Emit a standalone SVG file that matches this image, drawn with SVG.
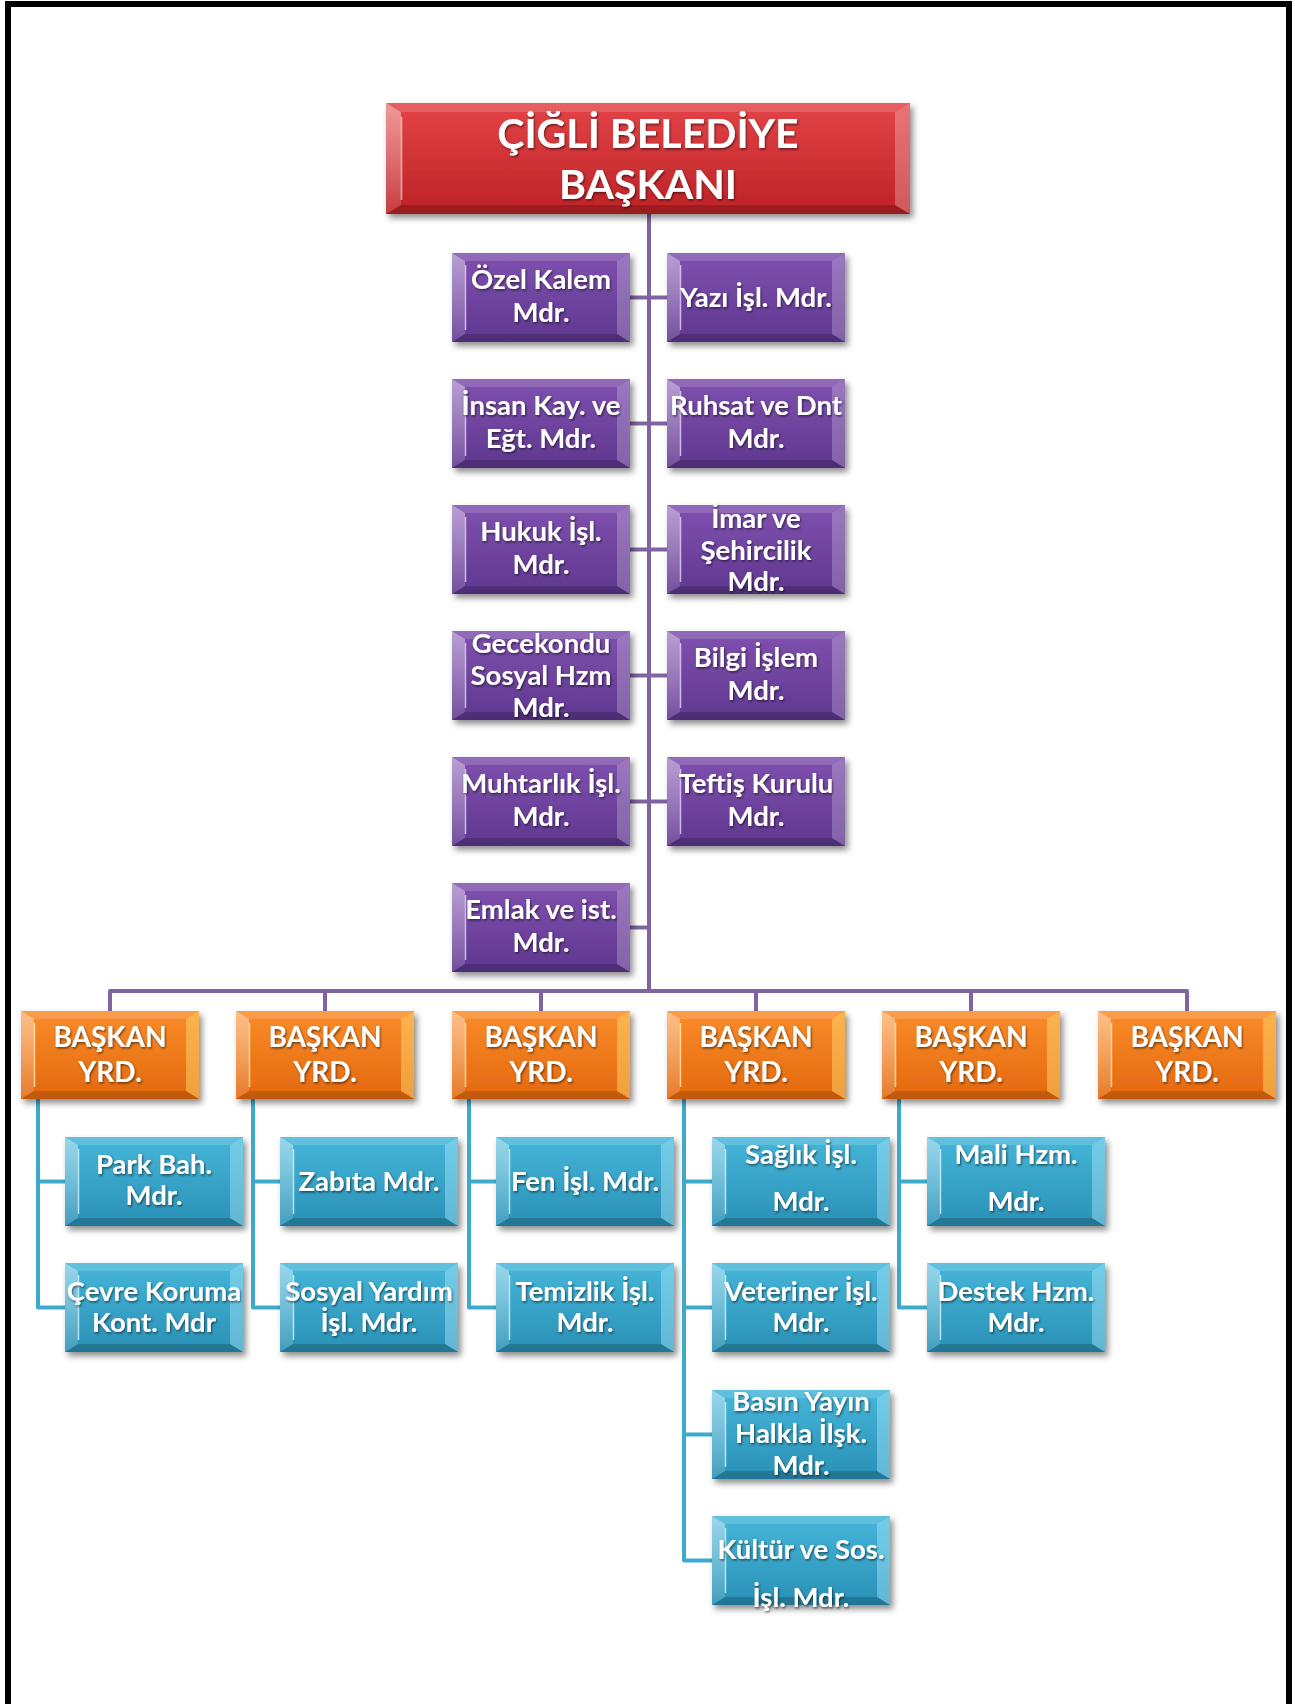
<svg xmlns="http://www.w3.org/2000/svg" width="1295" height="1704" viewBox="0 0 1295 1704">
<style>
.t{font-family:"Lato","Carlito","Liberation Sans",sans-serif;font-weight:bold;fill:#fff;text-anchor:middle;filter:url(#tsh)}
.tp{font-size:27.5px}
.to{font-size:28px}
.tb{font-size:27.5px}
.tt{font-size:41px}
.cp{fill:none;stroke:#8064a2;stroke-width:4;stroke-linejoin:round;stroke-linecap:round}
.cb{fill:none;stroke:#3eaacb;stroke-width:4;stroke-linejoin:round;stroke-linecap:round}
</style>
<defs>
<linearGradient id="gRed" x1="0" y1="0" x2="0" y2="1"><stop offset="0" stop-color="#e34447"/><stop offset="1" stop-color="#bd2226"/></linearGradient>
<linearGradient id="gPur" x1="0" y1="0" x2="0" y2="1"><stop offset="0" stop-color="#7f51ae"/><stop offset="1" stop-color="#5f3790"/></linearGradient>
<linearGradient id="gOra" x1="0" y1="0" x2="0" y2="1"><stop offset="0" stop-color="#fa8c2a"/><stop offset="1" stop-color="#e3680d"/></linearGradient>
<linearGradient id="gBlu" x1="0" y1="0" x2="0" y2="1"><stop offset="0" stop-color="#45b6d9"/><stop offset="1" stop-color="#2a90b6"/></linearGradient>
<linearGradient id="gHi" x1="0" y1="0" x2="0" y2="1"><stop offset="0" stop-color="#fff" stop-opacity=".45"/><stop offset="1" stop-color="#fff" stop-opacity=".12"/></linearGradient>
<filter id="sh" x="-10%" y="-10%" width="125%" height="135%"><feDropShadow dx="3" dy="4" stdDeviation="3" flood-color="#000" flood-opacity="0.45"/></filter>
<filter id="tsh" x="-10%" y="-20%" width="125%" height="150%"><feDropShadow dx="1" dy="1.5" stdDeviation="1" flood-color="#000" flood-opacity="0.55"/></filter>
<g id="bP">
<rect width="178" height="89" fill="url(#gPur)"/>
<polygon points="0,0 13,8 13,81 0,89" fill="url(#gHi)"/>
<polygon points="178,0 165,8 165,81 178,89" fill="#fff" fill-opacity=".22"/>
<polygon points="0,0 178,0 165,8 13,8" fill="#fff" fill-opacity=".15"/>
<polygon points="0,89 178,89 165,81 13,81" fill="#000" fill-opacity=".18"/>
<line x1="13.5" y1="12" x2="13.5" y2="77" stroke="#e6d6ff" stroke-opacity=".8" stroke-width="1.5"/>
</g>
<g id="bO">
<rect width="178" height="88" fill="url(#gOra)"/>
<polygon points="0,0 13,8 13,80 0,88" fill="url(#gHi)"/>
<polygon points="178,0 165,8 165,80 178,88" fill="#ffe27a" fill-opacity=".45"/>
<polygon points="0,0 178,0 165,8 13,8" fill="#fff" fill-opacity=".15"/>
<polygon points="0,88 178,88 165,80 13,80" fill="#000" fill-opacity=".15"/>
<line x1="13.5" y1="12" x2="13.5" y2="76" stroke="#ffe9b0" stroke-opacity=".8" stroke-width="1.5"/>
</g>
<g id="bB">
<rect width="178" height="89" fill="url(#gBlu)"/>
<polygon points="0,0 13,8 13,81 0,89" fill="url(#gHi)"/>
<polygon points="178,0 165,8 165,81 178,89" fill="#b9f1ff" fill-opacity=".4"/>
<polygon points="0,0 178,0 165,8 13,8" fill="#fff" fill-opacity=".15"/>
<polygon points="0,89 178,89 165,81 13,81" fill="#000" fill-opacity=".18"/>
<line x1="13.5" y1="12" x2="13.5" y2="77" stroke="#d4f6ff" stroke-opacity=".8" stroke-width="1.5"/>
</g>
<g id="bR">
<rect width="524" height="111" fill="url(#gRed)"/>
<polygon points="0,0 15,9 15,102 0,111" fill="url(#gHi)"/>
<polygon points="524,0 509,9 509,102 524,111" fill="#fff" fill-opacity=".25"/>
<polygon points="0,0 524,0 509,9 15,9" fill="#fff" fill-opacity=".15"/>
<polygon points="0,111 524,111 509,102 15,102" fill="#000" fill-opacity=".18"/>
<line x1="15.5" y1="14" x2="15.5" y2="97" stroke="#ffd0d0" stroke-opacity=".8" stroke-width="1.5"/>
</g>
</defs>

<rect x="8" y="4" width="1281" height="1720" fill="#fff" stroke="#000" stroke-width="6"/>

<g id="connectors">
<path class="cp" d="M649,214 V991"/>
<path class="cp" d="M630,297.5 H667 M630,423.5 H667 M630,549.5 H667 M630,675.5 H667 M630,801.5 H667 M630,927.5 H649"/>
<path class="cp" d="M110,1011 V991 H1187 V1011 M325,991 V1011 M541,991 V1011 M756,991 V1011 M971,991 V1011"/>
<path class="cb" d="M38,1099 V1307.5 H65 M38,1181.5 H65"/>
<path class="cb" d="M253,1099 V1307.5 H280 M253,1181.5 H280"/>
<path class="cb" d="M469,1099 V1307.5 H496 M469,1181.5 H496"/>
<path class="cb" d="M684,1099 V1560.5 H712 M684,1181.5 H712 M684,1307.5 H712 M684,1434.5 H712"/>
<path class="cb" d="M899,1099 V1307.5 H927 M899,1181.5 H927"/>
</g>

<g id="n-baskan" transform="translate(386,103)"><use href="#bR" filter="url(#sh)"/><text class="t tt" x="262" y="45">ÇİĞLİ BELEDİYE</text><text class="t tt" x="262" y="96">BAŞKANI</text></g>

<g id="n-ozel" transform="translate(452,253)"><use href="#bP" filter="url(#sh)"/><text class="t tp" x="89" y="36">Özel Kalem</text><text class="t tp" x="89" y="69">Mdr.</text></g>
<g id="n-yazi" transform="translate(667,253)"><use href="#bP" filter="url(#sh)"/><text class="t tp" x="89" y="54">Yazı İşl. Mdr.</text></g>
<g id="n-insan" transform="translate(452,379)"><use href="#bP" filter="url(#sh)"/><text class="t tp" x="89" y="36">İnsan Kay. ve</text><text class="t tp" x="89" y="69">Eğt. Mdr.</text></g>
<g id="n-ruhsat" transform="translate(667,379)"><use href="#bP" filter="url(#sh)"/><text class="t tp" x="89" y="36">Ruhsat ve Dnt</text><text class="t tp" x="89" y="69">Mdr.</text></g>
<g id="n-hukuk" transform="translate(452,505)"><use href="#bP" filter="url(#sh)"/><text class="t tp" x="89" y="36">Hukuk İşl.</text><text class="t tp" x="89" y="69">Mdr.</text></g>
<g id="n-imar" transform="translate(667,505)"><use href="#bP" filter="url(#sh)"/><text class="t tp" x="89" y="23">İmar ve</text><text class="t tp" x="89" y="55">Şehircilik</text><text class="t tp" x="89" y="86">Mdr.</text></g>
<g id="n-gecekondu" transform="translate(452,631)"><use href="#bP" filter="url(#sh)"/><text class="t tp" x="89" y="22">Gecekondu</text><text class="t tp" x="89" y="54">Sosyal Hzm</text><text class="t tp" x="89" y="86">Mdr.</text></g>
<g id="n-bilgi" transform="translate(667,631)"><use href="#bP" filter="url(#sh)"/><text class="t tp" x="89" y="36">Bilgi İşlem</text><text class="t tp" x="89" y="69">Mdr.</text></g>
<g id="n-muhtarlik" transform="translate(452,757)"><use href="#bP" filter="url(#sh)"/><text class="t tp" x="89" y="36">Muhtarlık İşl.</text><text class="t tp" x="89" y="69">Mdr.</text></g>
<g id="n-teftis" transform="translate(667,757)"><use href="#bP" filter="url(#sh)"/><text class="t tp" x="89" y="36">Teftiş Kurulu</text><text class="t tp" x="89" y="69">Mdr.</text></g>
<g id="n-emlak" transform="translate(452,883)"><use href="#bP" filter="url(#sh)"/><text class="t tp" x="89" y="36">Emlak ve ist.</text><text class="t tp" x="89" y="69">Mdr.</text></g>

<g id="n-yrd1" transform="translate(21,1011)"><use href="#bO" filter="url(#sh)"/><text class="t to" x="89" y="36">BAŞKAN</text><text class="t to" x="89" y="71">YRD.</text></g>
<g id="n-yrd2" transform="translate(236,1011)"><use href="#bO" filter="url(#sh)"/><text class="t to" x="89" y="36">BAŞKAN</text><text class="t to" x="89" y="71">YRD.</text></g>
<g id="n-yrd3" transform="translate(452,1011)"><use href="#bO" filter="url(#sh)"/><text class="t to" x="89" y="36">BAŞKAN</text><text class="t to" x="89" y="71">YRD.</text></g>
<g id="n-yrd4" transform="translate(667,1011)"><use href="#bO" filter="url(#sh)"/><text class="t to" x="89" y="36">BAŞKAN</text><text class="t to" x="89" y="71">YRD.</text></g>
<g id="n-yrd5" transform="translate(882,1011)"><use href="#bO" filter="url(#sh)"/><text class="t to" x="89" y="36">BAŞKAN</text><text class="t to" x="89" y="71">YRD.</text></g>
<g id="n-yrd6" transform="translate(1098,1011)"><use href="#bO" filter="url(#sh)"/><text class="t to" x="89" y="36">BAŞKAN</text><text class="t to" x="89" y="71">YRD.</text></g>

<g id="n-park" transform="translate(65,1137)"><use href="#bB" filter="url(#sh)"/><text class="t tb" x="89" y="37">Park Bah.</text><text class="t tb" x="89" y="68">Mdr.</text></g>
<g id="n-cevre" transform="translate(65,1263)"><use href="#bB" filter="url(#sh)"/><text class="t tb" x="89" y="38">Çevre Koruma</text><text class="t tb" x="89" y="69">Kont. Mdr</text></g>
<g id="n-zabita" transform="translate(280,1137)"><use href="#bB" filter="url(#sh)"/><text class="t tb" x="89" y="54">Zabıta Mdr.</text></g>
<g id="n-sosyal" transform="translate(280,1263)"><use href="#bB" filter="url(#sh)"/><text class="t tb" x="89" y="38">Sosyal Yardım</text><text class="t tb" x="89" y="69">İşl. Mdr.</text></g>
<g id="n-fen" transform="translate(496,1137)"><use href="#bB" filter="url(#sh)"/><text class="t tb" x="89" y="54">Fen İşl. Mdr.</text></g>
<g id="n-temizlik" transform="translate(496,1263)"><use href="#bB" filter="url(#sh)"/><text class="t tb" x="89" y="38">Temizlik İşl.</text><text class="t tb" x="89" y="69">Mdr.</text></g>
<g id="n-saglik" transform="translate(712,1137)"><use href="#bB" filter="url(#sh)"/><text class="t tb" x="89" y="27">Sağlık İşl.</text><text class="t tb" x="89" y="74">Mdr.</text></g>
<g id="n-veteriner" transform="translate(712,1263)"><use href="#bB" filter="url(#sh)"/><text class="t tb" x="89" y="38">Veteriner İşl.</text><text class="t tb" x="89" y="69">Mdr.</text></g>
<g id="n-basin" transform="translate(712,1390)"><use href="#bB" filter="url(#sh)"/><text class="t tb" x="89" y="21">Basın Yayın</text><text class="t tb" x="89" y="53">Halkla İlşk.</text><text class="t tb" x="89" y="85">Mdr.</text></g>
<g id="n-kultur" transform="translate(712,1516)"><use href="#bB" filter="url(#sh)"/><text class="t tb" x="89" y="43">Kültür ve Sos.</text><text class="t tb" x="89" y="91">İşl. Mdr.</text></g>
<g id="n-mali" transform="translate(927,1137)"><use href="#bB" filter="url(#sh)"/><text class="t tb" x="89" y="27">Mali Hzm.</text><text class="t tb" x="89" y="74">Mdr.</text></g>
<g id="n-destek" transform="translate(927,1263)"><use href="#bB" filter="url(#sh)"/><text class="t tb" x="89" y="38">Destek Hzm.</text><text class="t tb" x="89" y="69">Mdr.</text></g>
</svg>
